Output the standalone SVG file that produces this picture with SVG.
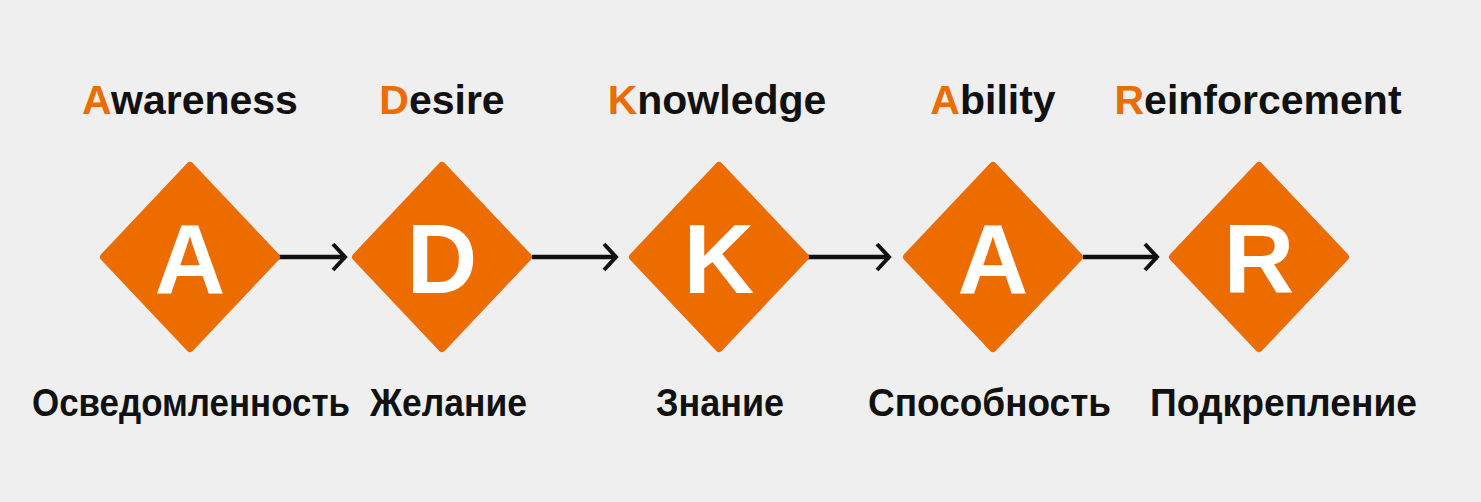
<svg xmlns="http://www.w3.org/2000/svg" width="1481" height="502" viewBox="0 0 1481 502">
<defs>
<style>
.bg{fill:#efefef}
.dia{fill:#ec6c00;stroke:#ec6c00;stroke-width:8;stroke-linejoin:round}
.let{font-family:"Liberation Sans",Arial,sans-serif;font-weight:bold;font-size:98px;fill:#ffffff;text-anchor:middle}
.title{font-family:"Liberation Sans",Arial,sans-serif;font-weight:bold;font-size:41px;fill:#111111;text-anchor:middle}
.hl{fill:#ec6c00}
.sub{font-family:"Liberation Sans",Arial,sans-serif;font-weight:bold;font-size:39px;fill:#111111}
.con{stroke:#111111;stroke-width:4.5;fill:none}
</style>
<marker id="arr" viewBox="0 0 18 30" refX="16" refY="15" markerWidth="18" markerHeight="30" markerUnits="userSpaceOnUse" orient="auto">
<path d="M3,2 L15,15 L3,28" fill="none" stroke="#111111" stroke-width="4"/>
</marker>
</defs>
<rect class="bg" x="0" y="0" width="1481" height="502"/>
<g id="connectors">
<line class="con" x1="279" y1="257" x2="346" y2="257" marker-end="url(#arr)"/>
<line class="con" x1="532" y1="257" x2="617" y2="257" marker-end="url(#arr)"/>
<line class="con" x1="808" y1="257" x2="890" y2="257" marker-end="url(#arr)"/>
<line class="con" x1="1083" y1="257" x2="1158" y2="257" marker-end="url(#arr)"/>
</g>
<g id="node-awareness">
<text class="title" x="190" y="114"><tspan class="hl">A</tspan>wareness</text>
<polygon class="dia" points="190,166 276,257 190,348 104,257"/>
<text class="let" x="190" y="293">A</text>
<text class="sub" x="32" y="416" textLength="318" lengthAdjust="spacingAndGlyphs">Осведомленность</text>
</g>
<g id="node-desire">
<text class="title" x="442" y="114"><tspan class="hl">D</tspan>esire</text>
<polygon class="dia" points="442,166 528,257 442,348 356,257"/>
<text class="let" x="442" y="293">D</text>
<text class="sub" x="370" y="416" textLength="157" lengthAdjust="spacingAndGlyphs">Желание</text>
</g>
<g id="node-knowledge">
<text class="title" x="717" y="114"><tspan class="hl">K</tspan>nowledge</text>
<polygon class="dia" points="719,166 805,257 719,348 633,257"/>
<text class="let" x="719" y="293">K</text>
<text class="sub" x="656" y="416" textLength="128" lengthAdjust="spacingAndGlyphs">Знание</text>
</g>
<g id="node-ability">
<text class="title" x="993" y="114"><tspan class="hl">A</tspan>bility</text>
<polygon class="dia" points="993,166 1079,257 993,348 907,257"/>
<text class="let" x="993" y="293">A</text>
<text class="sub" x="868" y="416" textLength="243" lengthAdjust="spacingAndGlyphs">Способность</text>
</g>
<g id="node-reinforcement">
<text class="title" x="1258" y="114"><tspan class="hl">R</tspan>einforcement</text>
<polygon class="dia" points="1259,166 1345,257 1259,348 1173,257"/>
<text class="let" x="1259" y="293">R</text>
<text class="sub" x="1150" y="416" textLength="267" lengthAdjust="spacingAndGlyphs">Подкрепление</text>
</g>
</svg>
